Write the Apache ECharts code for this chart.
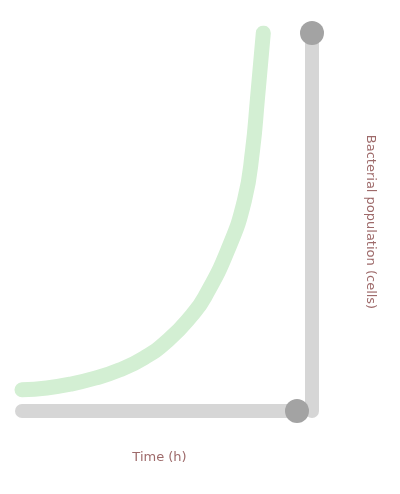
<!DOCTYPE html>
<html>
<head>
<meta charset="utf-8">
<title>growth curve</title>
<script src="https://cdn.jsdelivr.net/npm/echarts@6/dist/echarts.min.js"></script>
<style>
	html, body { margin: 0; padding: 0; background: #fff; }
	#main { width: 400px; height: 494px; }
</style>
</head>
<body>
<div id="main"></div>
<script>
// values
var xValues = [0, 1.08, 2.11, 3.19, 4.23, 5.31, 6.39, 7.42, 7.98, 8.98, 9.71, 10.06, 10.27, 10.53];
var yValues = [5.6, 6.1, 7.1, 8.7, 10.8, 14.0, 18.8, 25.4, 30.2, 42.6, 55.8, 69.0, 82.3, 100];
var xName = 'Time (h)';
var yName = 'Bacterial population (cells)';

var points = [];
for (var i = 0; i < xValues.length; i++) {
	points.push([xValues[i], yValues[i]]);
}

var myChart = echarts.init(document.getElementById('main'));

// axis line is light, the end cap is a darker dot -> second axis drawn only for its cap
var capStyle = { color: '#a3a3a3', opacity: 0 };

var option = {
	animation: false,
	grid: { left: 22, right: 103, top: 33, bottom: 83 },
	xAxis: [{
		type: 'value', min: 0, max: 12,
		name: xName, nameLocation: 'middle', nameGap: 40,
		nameTextStyle: { color: '#9e6a6a', fontSize: 13, fontFamily: 'DejaVu Sans' },
		axisLine: { show: true, onZero: false, lineStyle: { color: '#d6d6d6', width: 14 } },
		axisTick: { show: false }, axisLabel: { show: false }, splitLine: { show: false }
	}, {
		type: 'value', min: 0, max: 12, position: 'bottom',
		axisLine: { show: true, onZero: false, symbol: ['none', 'circle'], symbolSize: [24, 24], lineStyle: capStyle },
		axisTick: { show: false }, axisLabel: { show: false }, splitLine: { show: false }
	}],
	yAxis: [{
		type: 'value', min: 0, max: 100, position: 'right', offset: 15,
		name: yName, nameLocation: 'middle', nameGap: 52, nameRotate: -90,
		nameTextStyle: { color: '#9e6a6a', fontSize: 13, fontFamily: 'DejaVu Sans' },
		axisLine: { show: true, onZero: false, lineStyle: { color: '#d6d6d6', width: 14 } },
		axisTick: { show: false }, axisLabel: { show: false }, splitLine: { show: false }
	}, {
		type: 'value', min: 0, max: 100, position: 'right', offset: 15,
		axisLine: { show: true, onZero: false, symbol: ['none', 'circle'], symbolSize: [24, 24], lineStyle: capStyle },
		axisTick: { show: false }, axisLabel: { show: false }, splitLine: { show: false }
	}],
	series: [{
		type: 'line',
		smooth: true,
		showSymbol: false,
		lineStyle: { color: '#d3efd3', width: 15, cap: 'round' },
		data: points
	}]
};
myChart.setOption(option);
</script>
</body>
</html>
